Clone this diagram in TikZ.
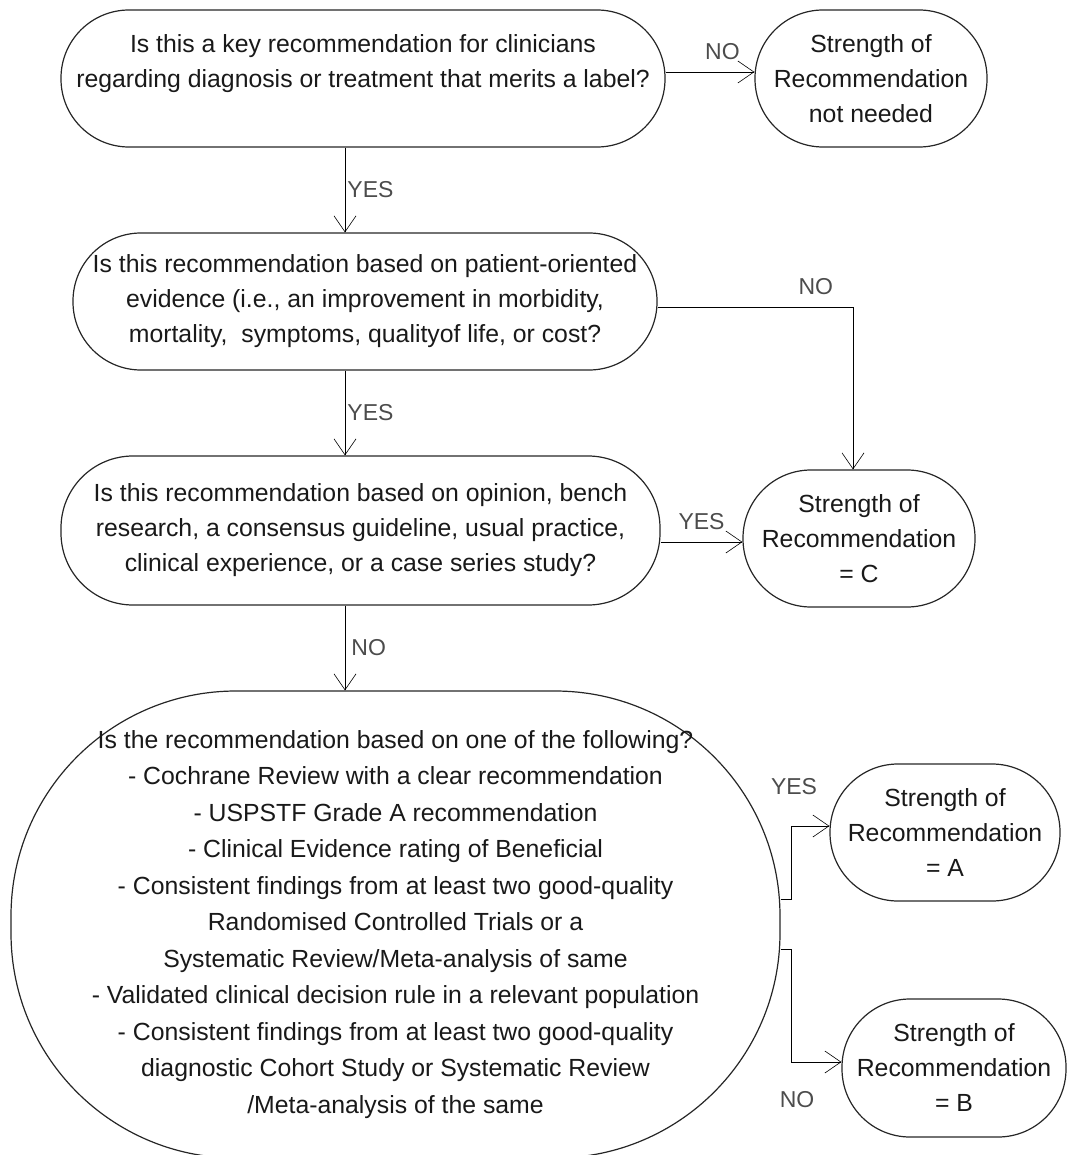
\documentclass[tikz,border=0pt]{standalone}
\usepackage{fontspec}
\setmainfont{Liberation Sans}
\usetikzlibrary{arrows.meta}
\tikzset{
	box/.style={draw=black!85, line width=1.2pt, align=center, inner sep=0pt,
		minimum height=137pt, rounded corners=68pt, text=black!90,
		font=\fontsize{24.8}{35}\selectfont},
	flow/.style={line width=0.9pt, -{Straight Barb[length=16pt,width=22pt,line width=0.6pt]}},
	lbl/.style={text=black!70, font=\fontsize{23}{26}\selectfont, inner sep=2pt}
}
\begin{document}
\begin{tikzpicture}[x=1pt,y=-1pt]
		\useasboundingbox (0,0) rectangle (1068,1155);
		\clip (0,0) rectangle (1068,1155);
		% questions
		\node[box, minimum width=604pt] (key) at (363,78.5) {Is this a key recommendation for clinicians\\regarding diagnosis or treatment that merits a label?\\~};
		\node[box, minimum width=584pt] (patient) at (365,301.5) {Is this recommendation based on patient-oriented\\evidence (i.e., an improvement in morbidity,\\mortality,~ symptoms, qualityof life, or cost?};
		\node[box, minimum width=599pt, minimum height=149pt, rounded corners=72pt] (opinion) at (360.5,530.5) {Is this recommendation based on opinion, bench\\research, a consensus guideline, usual practice,\\clinical experience, or a case series study?};
		\node[box, minimum width=769pt, minimum height=467pt, rounded corners=225pt, font=\fontsize{24.8}{36.5}\selectfont] (evid) at (395.5,924.5) {Is the recommendation based on one of the following?\\- Cochrane Review with a clear recommendation\\- USPSTF Grade A recommendation\\- Clinical Evidence rating of Beneficial\\- Consistent findings from at least two good-quality\\Randomised Controlled Trials or a\\Systematic Review/Meta-analysis of same\\- Validated clinical decision rule in a relevant population\\- Consistent findings from at least two good-quality\\diagnostic Cohort Study or Systematic Review\\/Meta-analysis of the same};
		% outcomes
		\node[box, minimum width=232pt] (none) at (871,78.5) {Strength of\\Recommendation\\not needed};
		\node[box, minimum width=232pt] (gradec) at (859,538.5) {Strength of\\Recommendation\\= C};
		\node[box, minimum width=230pt] (gradea) at (945,832.5) {Strength of\\Recommendation\\= A};
		\node[box, minimum width=224pt, minimum height=138pt] (gradeb) at (954,1068) {Strength of\\Recommendation\\= B};
		% connectors
		\coordinate (spine) at (345,0);
		\coordinate (fork) at (791,0);
		\coordinate (ain) at ([yshift=6.5pt]gradea.west);
		\coordinate (bin) at ([yshift=6pt]gradeb.west);
		\draw[flow] (key.south -| spine) -- node[lbl, anchor=west] {YES} (patient.north -| spine);
		\draw[flow] (patient.south -| spine) -- node[lbl, anchor=west] {YES} (opinion.north -| spine);
		\draw[flow] (opinion.south -| spine) -- node[lbl, anchor=west, xshift=4pt] {NO} (evid.north -| spine);
		\draw[flow] ([yshift=6.5pt]key.east) -- node[lbl, pos=0.64, above=10pt] {NO} ([yshift=6.5pt]none.west);
		\draw[flow] ([yshift=-5.5pt]patient.east) -| node[lbl, pos=0.405, above=10pt] {NO} ([xshift=-6pt]gradec.north);
		\draw[flow] ([yshift=-11.5pt]opinion.east) -- node[lbl, pos=0.5, above=10pt] {YES} ([yshift=-3.5pt]gradec.west);
		\draw[flow] ([yshift=25.5pt]evid.east) -| (fork |- ain) -- (ain);
		\draw[flow] ([yshift=-24.5pt]evid.east) -| (fork |- bin) -- (bin);
		\node[lbl] at (794,787) {YES};
		\node[lbl] at (797,1100) {NO};
\end{tikzpicture}
\end{document}
